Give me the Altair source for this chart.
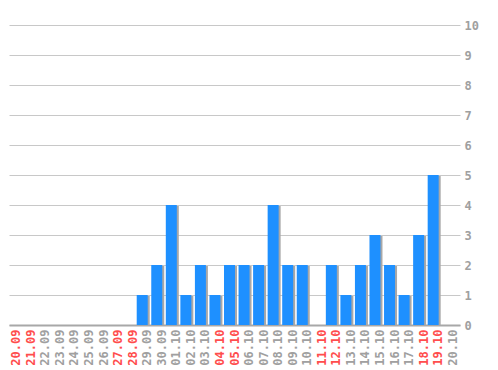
import altair as alt
import pandas as pd

dates = ["20.09", "21.09", "22.09", "23.09", "24.09", "25.09", "26.09", "27.09",
         "28.09", "29.09", "30.09", "01.10", "02.10", "03.10", "04.10", "05.10",
         "06.10", "07.10", "08.10", "09.10", "10.10", "11.10", "12.10", "13.10",
         "14.10", "15.10", "16.10", "17.10", "18.10", "19.10", "20.10"]
values = [0, 0, 0, 0, 0, 0, 0, 0, 0, 1, 2, 4, 1, 2, 1, 2, 2, 2, 4, 2, 2, 0,
          2, 1, 2, 3, 2, 1, 3, 5, 0]
weekend = ["20.09", "21.09", "27.09", "28.09", "04.10", "05.10", "11.10",
           "12.10", "18.10", "19.10"]
y_ticks = list(range(0, 11))

df = pd.DataFrame({"date": dates, "value": values})

test = "indexof([" + ",".join("'%s'" % d for d in weekend) + "], datum.value) >= 0"

x_enc = alt.X("date:N", sort=None, title=None,
              scale=alt.Scale(paddingInner=0, paddingOuter=0),
              axis=alt.Axis(labelAngle=-90, labelFont="DejaVu Sans Mono",
                            labelFontSize=12, labelFontWeight="bold",
                            labelColor={"condition": {"test": test, "value": "#ff4d4d"},
                                        "value": "#a0a0a0"},
                            ticks=False, labelPadding=4, domain=True,
                            domainColor="#a8a8a8", domainWidth=2, grid=False))
y_enc = alt.Y("value:Q", title=None,
              scale=alt.Scale(domain=[0, 10], nice=False),
              axis=alt.Axis(orient="right", values=y_ticks, ticks=False, domain=False,
                            labelFont="DejaVu Sans Mono", labelFontSize=12,
                            labelFontWeight="bold", labelColor="#a0a0a0",
                            labelPadding=4, gridColor="#c8c8c8", gridWidth=1))

base = alt.Chart(df)
shadow = base.mark_bar(color="#a8a8a8", width=11, xOffset=-3, yOffset=1).encode(
    x=x_enc, y=y_enc)
bars = base.mark_bar(color="#1e90ff", width=11, xOffset=-5).encode(x=x_enc, y=y_enc)

chart = (shadow + bars).properties(
    width=451, height=300,
    padding={"left": -3, "top": 11, "right": 0, "bottom": 0},
).configure_view(stroke=None)

chart.save("out.html", embed_options={"renderer": "svg", "actions": False})
